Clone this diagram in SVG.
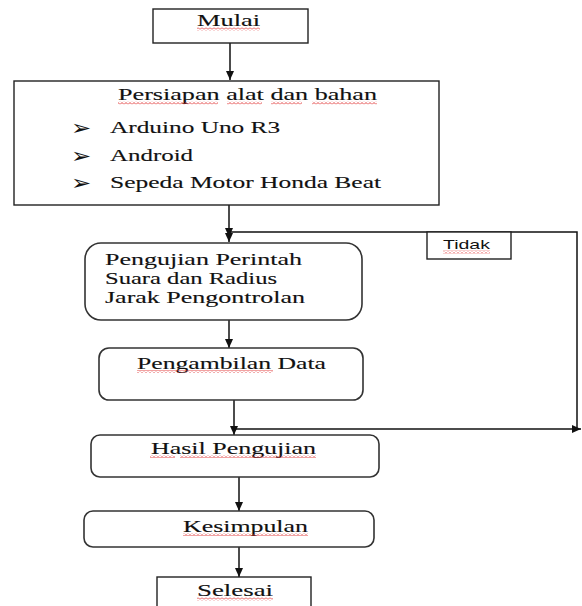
<svg xmlns="http://www.w3.org/2000/svg" width="582" height="606" viewBox="0 0 582 606">
<style>
.box{fill:#fff;stroke:#222;stroke-width:1.4}
.rbox{fill:#fff;stroke:#333;stroke-width:1.6}
.t{font-family:"Liberation Serif","Times New Roman",serif;font-size:16px;fill:#111;stroke:#111;stroke-width:0.12}
.s{font-family:"Liberation Sans",Arial,sans-serif;font-size:12px;fill:#111}
.b{font-family:"DejaVu Sans",sans-serif;font-size:21px;fill:#111}
.ln{fill:none;stroke:#111;stroke-width:1.5}
.sq{fill:url(#wavy)}
</style>
<defs>
<marker id="ah" markerWidth="10" markerHeight="10" refX="9" refY="5" orient="auto" markerUnits="userSpaceOnUse">
<path d="M0,1 L9,5 L0,9 Z" fill="#111"/>
</marker>
<pattern id="wavy" width="4" height="3" patternUnits="userSpaceOnUse">
<path d="M0,2.5 L2,0.5 L4,2.5" fill="none" stroke="#e03030" stroke-width="0.9"/>
</pattern>
</defs>

<g id="connectors">
<line class="ln" x1="230" y1="43" x2="230" y2="80" marker-end="url(#ah)"/>
<line class="ln" x1="229" y1="205" x2="229" y2="242" marker-end="url(#ah)"/>
<polyline class="ln" points="577,429 577,232 229,232 229,237" marker-end="url(#ah)"/>
<line class="ln" x1="229" y1="320" x2="229" y2="348" marker-end="url(#ah)"/>
<line class="ln" x1="234" y1="400" x2="234" y2="435" marker-end="url(#ah)"/>
<line class="ln" x1="234" y1="429" x2="581" y2="429" marker-end="url(#ah)"/>
<line class="ln" x1="239" y1="477" x2="239" y2="511" marker-end="url(#ah)"/>
<line class="ln" x1="239" y1="547" x2="239" y2="577" marker-end="url(#ah)"/>
</g>

<g id="mulai">
<rect class="box" x="153" y="9" width="155" height="34"/>
<text class="t" transform="translate(197,26) scale(1.6,1)" textLength="39.4" lengthAdjust="spacingAndGlyphs">Mulai</text>
<rect class="sq" x="197" y="27.5" width="63" height="3"/>
</g>

<g id="persiapan">
<rect class="box" x="14" y="81" width="425" height="124"/>
<text class="t" transform="translate(118,100) scale(1.6,1)" textLength="161.9" lengthAdjust="spacingAndGlyphs">Persiapan alat dan bahan</text>
<rect class="sq" x="118" y="101.5" width="100" height="3"/>
<rect class="sq" x="227" y="101.5" width="35" height="3"/>
<rect class="sq" x="271" y="101.5" width="31" height="3"/>
<rect class="sq" x="312" y="101.5" width="65" height="3"/>
<text class="b" transform="translate(71,135) scale(1.15,1)">➢</text>
<text class="t" transform="translate(110,133) scale(1.6,1)" textLength="106.3" lengthAdjust="spacingAndGlyphs">Arduino Uno R3</text>
<text class="b" transform="translate(71,162.5) scale(1.15,1)">➢</text>
<text class="t" transform="translate(110,160.5) scale(1.6,1)" textLength="51.9" lengthAdjust="spacingAndGlyphs">Android</text>
<text class="b" transform="translate(71,190) scale(1.15,1)">➢</text>
<text class="t" transform="translate(110,188) scale(1.6,1)" textLength="169.4" lengthAdjust="spacingAndGlyphs">Sepeda Motor Honda Beat</text>
</g>

<g id="tidak">
<rect class="box" x="427" y="232" width="84" height="27"/>
<text class="s" transform="translate(443,249) scale(1.5,1)" textLength="31.3" lengthAdjust="spacingAndGlyphs">Tidak</text>
<rect class="sq" x="443" y="250.5" width="47" height="3"/>
</g>

<g id="pengujian">
<rect class="rbox" x="85" y="243" width="277" height="77" rx="16"/>
<text class="t" transform="translate(105,264.5) scale(1.6,1)" textLength="123.1" lengthAdjust="spacingAndGlyphs">Pengujian Perintah</text>
<text class="t" transform="translate(105,283.5) scale(1.6,1)" textLength="107.5" lengthAdjust="spacingAndGlyphs">Suara dan Radius</text>
<text class="t" transform="translate(105,302.5) scale(1.6,1)" textLength="125" lengthAdjust="spacingAndGlyphs">Jarak Pengontrolan</text>
</g>

<g id="pengambilan">
<rect class="rbox" x="99" y="348" width="264" height="52" rx="10"/>
<text class="t" transform="translate(137,368.5) scale(1.6,1)" textLength="118.1" lengthAdjust="spacingAndGlyphs">Pengambilan Data</text>
<rect class="sq" x="137" y="370" width="136" height="3"/>
</g>

<g id="hasil">
<rect class="rbox" x="91" y="435" width="288" height="42" rx="9"/>
<text class="t" transform="translate(151,453.5) scale(1.6,1)" textLength="103.1" lengthAdjust="spacingAndGlyphs">Hasil Pengujian</text>
<rect class="sq" x="150" y="455" width="25" height="3"/>
<rect class="sq" x="180" y="455" width="136" height="3"/>
</g>

<g id="kesimpulan">
<rect class="rbox" x="84" y="511" width="290" height="36" rx="9"/>
<text class="t" transform="translate(183,531.5) scale(1.6,1)" textLength="78.1" lengthAdjust="spacingAndGlyphs">Kesimpulan</text>
<rect class="sq" x="183" y="533" width="125" height="3"/>
</g>

<g id="selesai">
<rect class="box" x="157" y="577" width="154" height="40"/>
<text class="t" transform="translate(197,596) scale(1.6,1)" textLength="47.5" lengthAdjust="spacingAndGlyphs">Selesai</text>
<rect class="sq" x="197" y="597.5" width="76" height="3"/>
</g>
</svg>
